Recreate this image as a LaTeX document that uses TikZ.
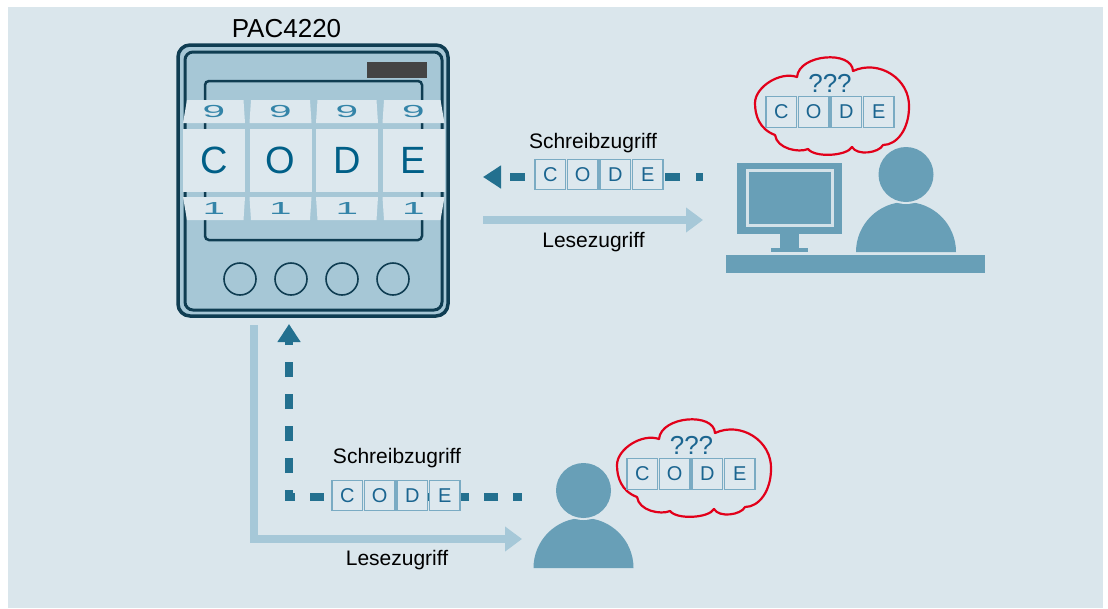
\documentclass[tikz,border=0pt]{standalone}
\usepackage{fontspec}
\setmainfont{Liberation Sans}
\usetikzlibrary{arrows.meta}

\definecolor{panel}{HTML}{DAE6EC}
\definecolor{devfill}{HTML}{A6C7D6}
\definecolor{devline}{HTML}{0F3D52}
\definecolor{wheelc}{HTML}{DDE8EE}
\definecolor{letterc}{HTML}{005F87}
\definecolor{digitc}{HTML}{3484A8}
\definecolor{writec}{HTML}{23708F}
\definecolor{readc}{HTML}{A6C8D8}
\definecolor{figc}{HTML}{689FB7}
\definecolor{boxline}{HTML}{7AABC3}
\definecolor{boxtext}{HTML}{1B6590}
\definecolor{cloudred}{HTML}{E2001A}
\definecolor{screenline}{HTML}{D3E2E9}
\definecolor{displayc}{HTML}{444444}

\begin{document}
\begin{tikzpicture}[x=1pt,y=-1pt,
  lbl/.style={inner sep=0pt, text=black, font=\fontsize{21}{25}\selectfont},
  codebox/.style={draw=boxline, line width=1.2pt, fill=wheelc, minimum width=30.5pt,
    minimum height=30.5pt, inner sep=0pt, text=boxtext, font=\fontsize{20}{24}\selectfont},
  qmark/.style={inner sep=0pt, text=boxtext, font=\fontsize{26}{30}\selectfont},
  writeline/.style={draw=writec, line width=8pt},
  writepath/.style={writeline, dash pattern=on 15pt off 16pt,
    -{Triangle[length=18pt,width=22pt]}},
  readpath/.style={draw=readc, line width=7.5pt, line join=miter,
    -{Triangle[length=17pt,width=24pt]}},
  digit/.style={inner sep=0pt, text=digitc, font=\fontsize{30}{32}\selectfont},
  bigletter/.style={inner sep=0pt, text=letterc, font=\fontsize{38}{40}\selectfont},
  button/.style={circle, draw=devline, line width=1.6pt, minimum size=32pt, inner sep=0pt},
  head/.style={circle, fill=figc, minimum size=55pt, inner sep=0pt},
  thought/.pic={
    \draw[cloudred, line width=2.2pt, line join=round]
      (42,20) .. controls (44,-3) and (97,-7) .. (98,14)
      .. controls (124,2) and (155,22) .. (154,50)
      .. controls (154,72) and (142,88) .. (128,88)
      .. controls (124,96) and (102,99) .. (97,90)
      .. controls (92,99) and (60,101) .. (53,92)
      .. controls (44,96) and (22,92) .. (20,78)
      .. controls (4,72) and (0,58) .. (0,46)
      .. controls (0,30) and (25,14) .. (42,20) -- cycle;
  }
]
\useasboundingbox (0,0) rectangle (1108,608);
\fill[white] (0,0) rectangle (1108,608);
\fill[panel] (8,7) rectangle (1103,608);

% ---------- meter PAC4220 ----------
\node[anchor=base, inner sep=0pt, font=\fontsize{26}{30}\selectfont] (title) at (286.5,37) {PAC4220};
\node[draw=devline, line width=3.5pt, fill=devfill, rounded corners=12pt,
  minimum width=270pt, minimum height=271pt, inner sep=0pt] (device) at (313,180.5) {};
\node[draw=devline, line width=3pt, rounded corners=8pt,
  minimum width=257pt, minimum height=258pt, inner sep=0pt] (devinner) at (313.5,181) {};
\node[fill=displayc, minimum width=60pt, minimum height=16pt, inner sep=0pt] (display) at (397,70) {};
\node[draw=devline, line width=2.5pt, rounded corners=4pt,
  minimum width=217pt, minimum height=159pt, inner sep=0pt] (window) at (313.5,160.5) {};

% code wheels
\foreach \L/\a/\b [count=\k] in {183/4/1.5, 249.5/1.5/1.5, 316/1.5/1.5, 382.5/1.5/4} {
  \fill[wheelc] ({\L+\a},100) -- ({\L+62-\b},100) -- ({\L+62},123) -- (\L,123) -- cycle;
  \fill[wheelc] (\L,129) rectangle ({\L+62},192);
  \fill[wheelc] (\L,197) -- ({\L+62},197) -- ({\L+62-\b},220) -- ({\L+\a},220) -- cycle;
  \node[digit] (nine\k) at ({\L+31},111.5) {\scalebox{1.35}[0.58]{9}};
  \node[digit] (one\k) at ({\L+31},208.5) {\scalebox{1.35}[0.58]{1}};
}
\foreach \L/\ch [count=\k] in {183/C, 249.5/O, 316/D, 382.5/E}
  \node[bigletter] (wheel\k) at ({\L+31},160.5) {\ch};

\foreach \bx [count=\k] in {240,291,342,393}
  \node[button] (btn\k) at (\bx,279) {};

% ---------- workstation ----------
\node[fill=figc, minimum width=105pt, minimum height=71pt, inner sep=0pt] (monitor) at (789.5,198.5) {};
\draw[screenline, line width=3pt] (747.5,170.5) rectangle (832.5,225.5);
\fill[figc] (780,234) rectangle (799,248);
\fill[figc] (771,247.5) rectangle (808,252);
\node[fill=figc, minimum width=259pt, minimum height=18pt, inner sep=0pt] (desk) at (855.5,264) {};

\fill[figc] (856,252) arc[start angle=180, end angle=360, radius=50] -- cycle;
\fill[panel] (906,174.5) circle[radius=29.5];
\node[head] (userA) at (906,174.5) {};

\pic (cloudA) at (755,57) {thought};
\node[qmark] (qA) at (830,83) {???};
\foreach \ch [count=\k] in {C,O,D,E}
  \node[codebox] (ca\k) at ({766+15.25+32.5*(\k-1)},112) {\ch};

% ---------- top access paths ----------
\coordinate (wa-start) at (703,177);
\coordinate (wa-end) at (483,177);
\draw[writepath, dash phase=8pt] (wa-start) -- (wa-end);
\foreach \ch [count=\k] in {C,O,D,E}
  \node[codebox] (wa\k) at ({535+15.25+32.5*(\k-1)},174.5) {\ch};
\node[lbl] (wlabA) at (593,143) {Schreibzugriff};

\coordinate (ra-start) at (483,220);
\coordinate (ra-end) at (703,220);
\draw[readpath] (ra-start) -- (ra-end);
\node[lbl] (rlabA) at (593.5,242.5) {Lesezugriff};

% ---------- local user ----------
\coordinate (rb-start) at (254,325);
\coordinate (rb-corner) at (254,539);
\coordinate (rb-end) at (522,539);
\draw[readpath] (rb-start) -- (rb-corner) -- (rb-end);
\node[lbl] (rlabB) at (397,560) {Lesezugriff};

% write access: horizontal run, then the rising leg with the tip
\coordinate (wb-start) at (522,497);
\coordinate (wb-corner) at (289,497);
\coordinate (wb-end) at (289,324);
\draw[writeline, dash pattern=on 14pt off 15pt, dash phase=5pt]
  (wb-start) -- ([xshift=-4pt]wb-corner);
\draw[writepath, dash pattern=on 15pt off 17pt, dash phase=8pt] (wb-corner) -- (wb-end);
\foreach \ch [count=\k] in {C,O,D,E}
  \node[codebox] (wb\k) at ({332+15.25+32.5*(\k-1)},495.5) {\ch};
\node[lbl] (wlabB) at (397,458.5) {Schreibzugriff};

\fill[figc] (533.5,568) arc[start angle=180, end angle=360, radius=50] -- cycle;
\fill[panel] (583.5,490.5) circle[radius=29.5];
\node[head] (userB) at (583.5,490.5) {};

\pic (cloudB) at (617,419) {thought};
\node[qmark] (qB) at (691.5,445) {???};
\foreach \ch [count=\k] in {C,O,D,E}
  \node[codebox] (cb\k) at ({627+15.25+32.5*(\k-1)},474) {\ch};
\end{tikzpicture}
\end{document}
